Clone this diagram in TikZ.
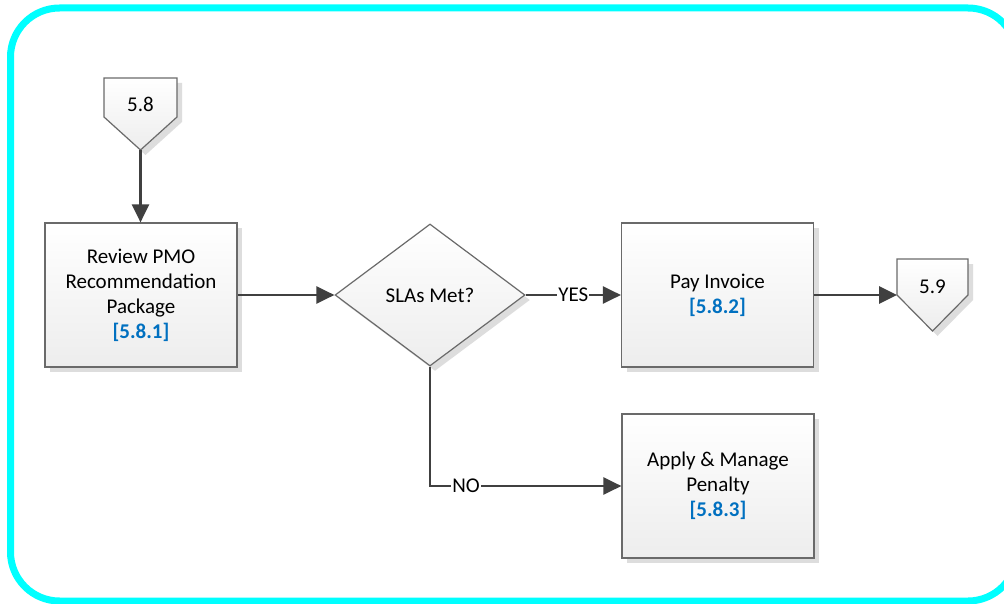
\documentclass[tikz,border=0pt]{standalone}
\usepackage{fontspec}
\setmainfont{Carlito}
\usetikzlibrary{shapes.geometric,arrows.meta,shadows}
\definecolor{framecyan}{HTML}{00FFFF}
\definecolor{refblue}{HTML}{0070C0}
\definecolor{flowline}{HTML}{404040}
\definecolor{boxline}{HTML}{6A6A6A}
\definecolor{shadowgray}{HTML}{DDDDDD}
\definecolor{fillbottom}{HTML}{EDEDED}

\begin{document}
\begin{tikzpicture}[x=1pt,y=-1pt,
  font=\fontsize{21}{25}\selectfont,
  softshadow/.style={drop shadow={shadow xshift=5pt,shadow yshift=-5pt,fill=shadowgray,opacity=1}},
  task/.style={draw=boxline,line width=1.2pt,top color=white,bottom color=fillbottom,
    minimum width=192pt,minimum height=144pt,align=center,inner sep=0pt,softshadow},
  decision/.style={diamond,draw=boxline,line width=1.2pt,top color=white,bottom color=fillbottom,
    minimum width=190pt,minimum height=142pt,inner sep=0pt,softshadow},
  offpage/.style={draw=boxline,line width=1.2pt,top color=white,bottom color=fillbottom,softshadow},
  flow/.style={draw=flowline,line width=2.8pt,-{Triangle[length=18pt,width=17pt]}},
  branch/.style={fill=white,inner sep=1pt,text=black}
]
\useasboundingbox (0,0) rectangle (1004,604);
\fill[white] (0,0) rectangle (1004,604);

% outer frame (its right side runs past the page edge)
\begin{scope}
\clip (0,0) rectangle (1004,604);
\draw[framecyan,line width=7pt,rounded corners=49pt] (10.5,8) rectangle (1017,601);
\end{scope}

% incoming off-page connector 5.8
\path[offpage] (104,78) -- (177,78) -- (177,117) -- (140.5,150) -- (104,117) -- cycle;
\node (c58) at (140.5,104) {5.8};
\coordinate (c58tip) at (140.5,150);

% outgoing off-page connector 5.9
\path[offpage] (897,259) -- (968,259) -- (968,295) -- (932.5,331) -- (897,295) -- cycle;
\node (c59) at (932.5,287) {5.9};
\coordinate (c59in) at (897,295);

% process steps
\node[task] (review) at (141,295) {Review PMO\\Recommendation\\Package\\{\bfseries\color{refblue}[5.8.1]}};
\node[decision] (sla) at (430,295) {SLAs Met?};
\node[task] (pay) at (717.5,295) {Pay Invoice\\{\bfseries\color{refblue}[5.8.2]}};
\node[task] (penalty) at (718,486) {Apply \& Manage\\Penalty\\{\bfseries\color{refblue}[5.8.3]}};

% connectors
\draw[flow] (c58tip) -- (c58tip |- review.north);
\draw[flow] (review.east) -- (sla.west);
\draw[flow] (sla.east) -- node[branch] {YES} (pay.west);
\draw[flow] (pay.east |- c59in) -- (c59in);
\draw[flow] (sla.south) |- node[branch,pos=0.594] {NO} (penalty.west);
\end{tikzpicture}
\end{document}
